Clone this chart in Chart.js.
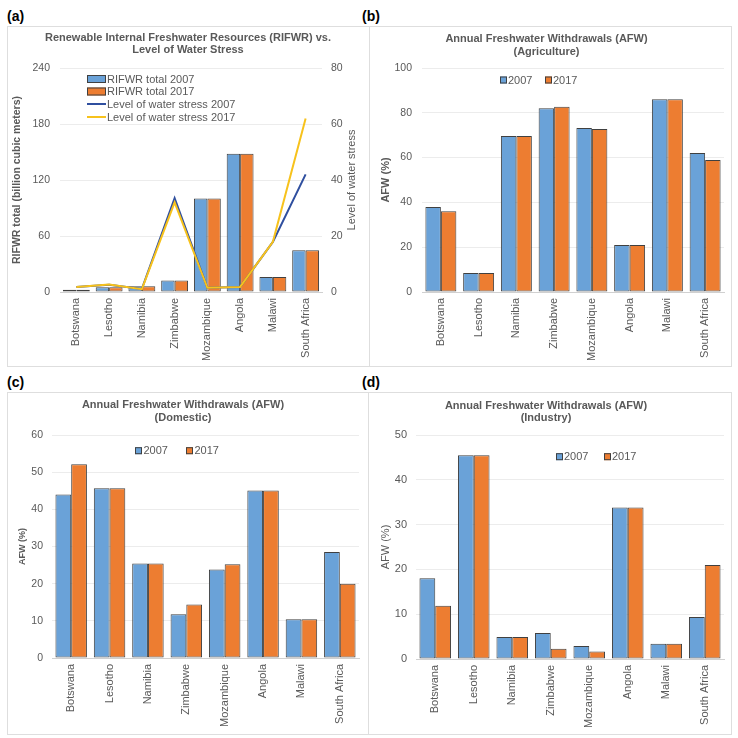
<!DOCTYPE html>
<html><head><meta charset="utf-8">
<script src="https://cdn.jsdelivr.net/npm/chart.js@4"></script>
<style>
body{margin:0;background:#fff;width:738px;height:738px;position:relative;overflow:hidden;font-family:"Liberation Sans",Arial,sans-serif}
.box{position:absolute;border:1px solid #dedede;box-sizing:border-box}
.lbl{position:absolute;font-weight:bold;font-size:14px;color:#000;line-height:16px}
canvas{position:absolute}
</style></head><body>
<div class="box" style="left:7px;top:26px;width:363px;height:341px"></div>
<div class="box" style="left:369px;top:26px;width:363px;height:341px"></div>
<div class="box" style="left:7px;top:392px;width:362px;height:343px"></div>
<div class="box" style="left:368px;top:392px;width:364px;height:343px"></div>
<div class="lbl" style="left:7px;top:8px">(a)</div>
<div class="lbl" style="left:362px;top:8px">(b)</div>
<div class="lbl" style="left:7px;top:374px">(c)</div>
<div class="lbl" style="left:362px;top:374px">(d)</div>
<canvas id="ca" width="362" height="341" style="left:7px;top:26px"></canvas>
<canvas id="cb" width="363" height="341" style="left:369px;top:26px"></canvas>
<canvas id="cc" width="361" height="342" style="left:7px;top:392px"></canvas>
<canvas id="cd" width="364" height="342" style="left:368px;top:392px"></canvas>
<script>
// ---- data ----
const categories = ['Botswana','Lesotho','Namibia','Zimbabwe','Mozambique','Angola','Malawi','South Africa'];
const rifwr2007 = [2.4, 5.2, 6.2, 12.3, 100.3, 148, 16.1, 44.8];
const rifwr2017 = [2.4, 5.2, 6.2, 12.3, 100.3, 148, 16.1, 44.8];
const stress2007 = [1.8, 2.6, 1.1, 33.5, 1.5, 1.8, 17.9, 42.0];
const stress2017 = [1.8, 2.7, 1.0, 32.0, 1.5, 1.8, 17.9, 62.0];
const agri2007 = [38, 8.5, 69.6, 82, 73.2, 21, 86, 62];
const agri2017 = [36, 8.5, 69.6, 82.7, 72.8, 21, 86, 58.9];
const dom2007 = [44, 45.7, 25.4, 11.8, 23.8, 45.1, 10.4, 28.5];
const dom2017 = [52.1, 45.7, 25.4, 14.4, 25.2, 45.1, 10.4, 20.0];
const ind2007 = [18, 45.5, 4.9, 5.8, 2.9, 33.8, 3.4, 9.4];
const ind2017 = [11.9, 45.5, 4.9, 2.3, 1.7, 33.8, 3.4, 21.0];
const ticksA = [0, 60, 120, 180, 240];
const ticksA2 = [0, 20, 40, 60, 80];

// ---- style ----
const FF = '"Liberation Sans", Arial, sans-serif';
const GRAY = '#595959';
const BLUE = '#6aa2d8';
const ORANGE = '#ed7d31';
const EDGE = '#404040';
const GRID = '#ececec';
Chart.defaults.font.family = FF;
Chart.defaults.color = GRAY;

const legendPlugin = {
  id: 'boxLegend',
  afterDatasetsDraw(chart, args, opts) {
    if (!opts || !opts.items) return;
    const ctx = chart.ctx;
    ctx.save();
    ctx.font = (opts.size || 11) + 'px ' + FF;
    ctx.textBaseline = 'middle';
    ctx.textAlign = 'left';
    opts.items.forEach(it => {
      const ds = chart.data.datasets[it.index];
      if (it.kind === 'line') {
        ctx.strokeStyle = ds.borderColor;
        ctx.lineWidth = 2;
        ctx.beginPath();
        ctx.moveTo(it.x, it.y);
        ctx.lineTo(it.x + it.w, it.y);
        ctx.stroke();
      } else {
        ctx.fillStyle = ds.backgroundColor;
        ctx.fillRect(it.x, it.y - it.h / 2, it.w, it.h);
        ctx.strokeStyle = EDGE;
        ctx.lineWidth = 1;
        ctx.strokeRect(it.x + 0.5, it.y - it.h / 2 + 0.5, it.w - 1, it.h - 1);
      }
      ctx.fillStyle = GRAY;
      ctx.fillText(ds.label, it.x + it.w + (it.gap || 1), it.y + 0.5);
    });
    ctx.restore();
  }
};

// right-axis title that reads bottom-to-top (as in the reference)
const rightTitlePlugin = {
  id: 'rightTitle',
  afterDraw(chart, args, opts) {
    if (!opts || !opts.text) return;
    const s = chart.scales[opts.scale];
    const ctx = chart.ctx;
    ctx.save();
    ctx.font = (opts.size || 11) + 'px ' + FF;
    ctx.fillStyle = GRAY;
    ctx.textAlign = 'center';
    ctx.textBaseline = 'middle';
    ctx.translate(s.right - opts.offset, (s.top + s.bottom) / 2);
    ctx.rotate(-Math.PI / 2);
    ctx.fillText(opts.text, 0, 0);
    ctx.restore();
  }
};

function xScale(h) {
  return {
    grid: {display: false, drawTicks: false},
    border: {display: true, color: '#d0d0d0', width: 1},
    ticks: {autoSkip: false, maxRotation: 90, minRotation: 90, padding: 6, color: GRAY, font: {family: FF, size: 11}},
    afterFit(s) { s.height = h; }
  };
}
function yScale(max, step, w, pad, fsize, title) {
  return {
    min: 0, max: max,
    ticks: {stepSize: step, padding: pad, color: GRAY, font: {family: FF, size: fsize}},
    grid: {color: GRID, drawTicks: false},
    border: {display: false},
    title: title,
    afterFit(s) { s.width = w; }
  };
}
function barDs(label, data, color, order) {
  return {type: 'bar', label, data, backgroundColor: color, borderColor: EDGE, borderWidth: 1,
          categoryPercentage: 0.82, barPercentage: 1, order: order, borderSkipped: false};
}
function titleOpt(lines, lh, top, bottom) {
  return {display: true, text: lines, color: GRAY,
          font: {family: FF, size: 11, weight: 'bold', lineHeight: lh / 11},
          padding: {top: top, bottom: bottom}};
}
const common = {responsive: false, animation: false, devicePixelRatio: 1,
  plugins: {tooltip: {enabled: false}, legend: {display: false}}};

// ---- (a) ----
new Chart(document.getElementById('ca'), {
  data: {
    labels: categories,
    datasets: [
      barDs('RIFWR total 2007', rifwr2007, BLUE, 3),
      barDs('RIFWR total 2017', rifwr2017, ORANGE, 3),
      {type: 'line', label: 'Level of water stress 2007', data: stress2007, yAxisID: 'y1',
       borderColor: '#2f4f9f', borderWidth: 2, pointRadius: 0, tension: 0, order: 1},
      {type: 'line', label: 'Level of water stress 2017', data: stress2017, yAxisID: 'y1',
       borderColor: '#f7c21c', borderWidth: 2, pointRadius: 0, tension: 0, order: 0}
    ]
  },
  options: Object.assign({}, common, {
    layout: {padding: {left: 0, right: 0, top: 0, bottom: 0}},
    plugins: Object.assign({}, common.plugins, {
      title: titleOpt(['Renewable Internal Freshwater Resources (RIFWR) vs.', 'Level of Water Stress'], 12.5, 5.5, 11.5),
      boxLegend: {size: 11, items: [
        {index: 0, x: 80, y: 53, w: 19, h: 8, gap: 1},
        {index: 1, x: 80, y: 65.5, w: 19, h: 8, gap: 1},
        {index: 2, x: 80, y: 78, w: 19, h: 8, gap: 1, kind: 'line'},
        {index: 3, x: 80, y: 91, w: 19, h: 8, gap: 1, kind: 'line'}
      ]},
      rightTitle: {scale: 'y1', text: 'Level of water stress', size: 11, offset: 17}
    }),
    scales: {
      x: xScale(75),
      y: Object.assign(yScale(240, 60, 53, 10, 10.5,
        {display: true, text: 'RIFWR total (billion cubic meters)', color: GRAY,
         font: {family: FF, size: 10.5, weight: 'bold'}, padding: {top: 4, bottom: 0}}),
        {afterBuildTicks(s) { s.ticks = ticksA.map(v => ({value: v})); }}),
      y1: {position: 'right', min: 0, max: 80,
        ticks: {stepSize: 20, padding: 9, color: GRAY, font: {family: FF, size: 10.5}},
        grid: {display: false, drawTicks: false}, border: {display: false},
        afterBuildTicks(s) { s.ticks = ticksA2.map(v => ({value: v})); },
        afterFit(s) { s.width = 47; }}
    }
  }),
  plugins: [legendPlugin, rightTitlePlugin]
});

// ---- (b) ----
new Chart(document.getElementById('cb'), {
  data: {labels: categories, datasets: [barDs('2007', agri2007, BLUE, 1), barDs('2017', agri2017, ORANGE, 1)]},
  options: Object.assign({}, common, {
    layout: {padding: {left: 0, right: 8, top: 0, bottom: 0}},
    plugins: Object.assign({}, common.plugins, {
      title: titleOpt(['Annual Freshwater Withdrawals (AFW)', '(Agriculture)'], 13.4, 6, 9.2),
      boxLegend: {size: 11, items: [
        {index: 0, x: 131, y: 54, w: 7, h: 7, gap: 1},
        {index: 1, x: 176, y: 54, w: 7, h: 7, gap: 1}
      ]}
    }),
    scales: {
      x: xScale(75),
      y: yScale(100, 20, 53, 10, 10.5, {display: true, text: 'AFW (%)', color: GRAY,
        font: {family: FF, size: 11, weight: 'bold'}, padding: {top: 10, bottom: 0}})
    }
  }),
  plugins: [legendPlugin]
});

// ---- (c) ----
new Chart(document.getElementById('cc'), {
  data: {labels: categories, datasets: [barDs('2007', dom2007, BLUE, 1), barDs('2017', dom2017, ORANGE, 1)]},
  options: Object.assign({}, common, {
    layout: {padding: {left: 0, right: 9, top: 0, bottom: 0}},
    plugins: Object.assign({}, common.plugins, {
      title: titleOpt(['Annual Freshwater Withdrawals (AFW)', '(Domestic)'], 13, 6.2, 10.8),
      boxLegend: {size: 11, items: [
        {index: 0, x: 128, y: 58.7, w: 7, h: 7, gap: 1.5},
        {index: 1, x: 179, y: 58.7, w: 7, h: 7, gap: 1.5}
      ]}
    }),
    scales: {
      x: xScale(76),
      y: yScale(60, 10, 45, 9, 10.5, {display: true, text: 'AFW (%)', color: GRAY,
        font: {family: FF, size: 9, weight: 'bold'}, padding: {top: 10, bottom: 0}})
    }
  }),
  plugins: [legendPlugin]
});

// ---- (d) ----
new Chart(document.getElementById('cd'), {
  data: {labels: categories, datasets: [barDs('2007', ind2007, BLUE, 1), barDs('2017', ind2017, ORANGE, 1)]},
  options: Object.assign({}, common, {
    layout: {padding: {left: 0, right: 8, top: 0, bottom: 0}},
    plugins: Object.assign({}, common.plugins, {
      title: titleOpt(['Annual Freshwater Withdrawals (AFW)', '(Industry)'], 12.3, 7.5, 10.9),
      boxLegend: {size: 11, items: [
        {index: 0, x: 188, y: 64.7, w: 7, h: 7, gap: 1},
        {index: 1, x: 236, y: 64.7, w: 7, h: 7, gap: 1}
      ]}
    }),
    scales: {
      x: xScale(75),
      y: yScale(50, 10, 48, 9, 11, {display: true, text: 'AFW (%)', color: GRAY,
        font: {family: FF, size: 11}, padding: {top: 11, bottom: 0}})
    }
  }),
  plugins: [legendPlugin]
});
</script>
</body></html>
